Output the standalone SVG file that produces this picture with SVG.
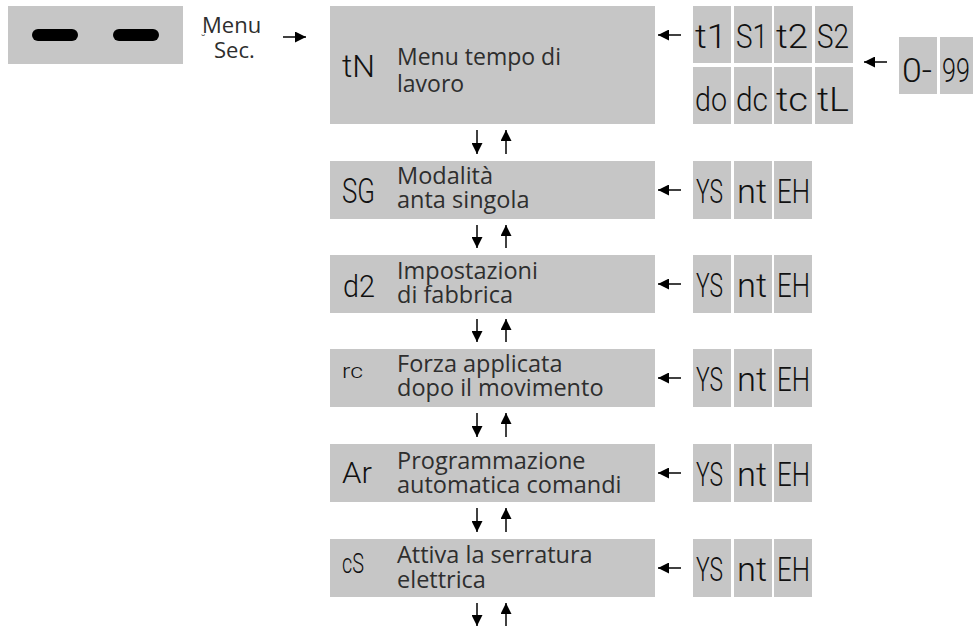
<svg xmlns="http://www.w3.org/2000/svg" width="973" height="627" viewBox="0 0 973 627">
<defs>
<style>
.box{fill:#c6c6c6}
.bar{fill:#000}
.lbl{font-family:"Open Sans","Noto Sans","DejaVu Sans",sans-serif;font-size:23.5px;fill:#2e2e2e}
.big{font-size:23px}
.seg{font-family:Roboto,"DejaVu Sans Mono",monospace;font-weight:300;font-size:34px;fill:#111}
.ln{stroke:#000;stroke-width:1.5;fill:none;marker-end:url(#ah)}
</style>
<marker id="ah" markerUnits="userSpaceOnUse" markerWidth="11" markerHeight="11" refX="10" refY="5" orient="auto" viewBox="0 0 10 10">
<path d="M0,0 L10,5 L0,10 z" fill="#000"/>
</marker>
</defs>
<rect width="973" height="627" fill="#fff"/>

<g id="keys">
<rect class="box" x="8" y="6" width="175" height="58"/>
<rect class="bar" x="32" y="29" width="46" height="12" rx="6"/>
<rect class="bar" x="113" y="29" width="46" height="12" rx="6"/>
</g>
<g id="menu-sec">
<text class="lbl" x="202" y="33" style="font-size:22px">Menu<tspan x="201" y="43" style="font-size:11px">˘</tspan><tspan x="214" y="58">Sec.</tspan></text>
</g>

<g id="node-tN">
<rect class="box" x="330" y="6" width="325" height="118"/>
<text class="seg" x="342" y="77" style="font-size:31px" textLength="33" lengthAdjust="spacingAndGlyphs">tN</text>
<text class="lbl big" x="397" y="65">Menu tempo di<tspan x="397" y="92">lavoro</tspan></text>
</g>
<g id="node-tN-values">
<rect class="box" x="693" y="6" width="38" height="57"/><text class="seg" x="695" y="48" textLength="32" lengthAdjust="spacingAndGlyphs">t1</text>
<rect class="box" x="734" y="6" width="38" height="57"/><text class="seg" x="736" y="48" textLength="32" lengthAdjust="spacingAndGlyphs">S1</text>
<rect class="box" x="774" y="6" width="38" height="57"/><text class="seg" x="776" y="48" textLength="32" lengthAdjust="spacingAndGlyphs">t2</text>
<rect class="box" x="815" y="6" width="38" height="57"/><text class="seg" x="817" y="48" textLength="32" lengthAdjust="spacingAndGlyphs">S2</text>
<rect class="box" x="693" y="67" width="38" height="57"/><text class="seg" x="695" y="111" textLength="32" lengthAdjust="spacingAndGlyphs">do</text>
<rect class="box" x="734" y="67" width="38" height="57"/><text class="seg" x="736" y="111" textLength="32" lengthAdjust="spacingAndGlyphs">dc</text>
<rect class="box" x="774" y="67" width="38" height="57"/><text class="seg" x="776" y="111" textLength="32" lengthAdjust="spacingAndGlyphs">tc</text>
<rect class="box" x="815" y="67" width="38" height="57"/><text class="seg" x="817" y="111" textLength="32" lengthAdjust="spacingAndGlyphs">tL</text>
</g>
<g id="node-range">
<rect class="box" x="899" y="37" width="38" height="57"/><text class="seg" x="902" y="82" textLength="30" lengthAdjust="spacingAndGlyphs">0-</text>
<rect class="box" x="940" y="37" width="38" height="57"/><text class="seg" transform="translate(942,82) scale(0.74,1)" x="0" y="0">99</text>
</g>

<g id="node-SG">
<rect class="box" x="330" y="161" width="325" height="58"/>
<text class="seg" x="342" y="203" style="font-size:35px" textLength="33" lengthAdjust="spacingAndGlyphs">SG</text>
<text class="lbl" x="397" y="184">Modalità<tspan x="397" y="208">anta singola</tspan></text>
</g>
<g id="node-SG-values">
<rect class="box" x="693" y="161" width="38" height="58"/><text class="seg" x="696" y="203" textLength="27" lengthAdjust="spacingAndGlyphs">YS</text>
<rect class="box" x="734" y="161" width="38" height="58"/><text class="seg" x="737" y="203" textLength="30" lengthAdjust="spacingAndGlyphs">nt</text>
<rect class="box" x="774" y="161" width="38" height="58"/><text class="seg" x="777" y="203" textLength="33" lengthAdjust="spacingAndGlyphs">EH</text>
</g>

<g id="node-d2">
<rect class="box" x="330" y="255" width="325" height="58"/>
<text class="seg" x="343" y="297" style="font-size:31px" textLength="32" lengthAdjust="spacingAndGlyphs">d2</text>
<text class="lbl" x="397" y="279">Impostazioni<tspan x="397" y="303">di fabbrica</tspan></text>
</g>
<g id="node-d2-values">
<rect class="box" x="693" y="255" width="38" height="58"/><text class="seg" x="696" y="297" textLength="27" lengthAdjust="spacingAndGlyphs">YS</text>
<rect class="box" x="734" y="255" width="38" height="58"/><text class="seg" x="737" y="297" textLength="30" lengthAdjust="spacingAndGlyphs">nt</text>
<rect class="box" x="774" y="255" width="38" height="58"/><text class="seg" x="777" y="297" textLength="33" lengthAdjust="spacingAndGlyphs">EH</text>
</g>

<g id="node-rc">
<rect class="box" x="330" y="349" width="325" height="58"/>
<text class="seg" x="342" y="378" style="font-size:20px" textLength="21" lengthAdjust="spacingAndGlyphs">rc</text>
<text class="lbl" x="397" y="372">Forza applicata<tspan x="397" y="396">dopo il movimento</tspan></text>
</g>
<g id="node-rc-values">
<rect class="box" x="693" y="349" width="38" height="58"/><text class="seg" x="696" y="391" textLength="27" lengthAdjust="spacingAndGlyphs">YS</text>
<rect class="box" x="734" y="349" width="38" height="58"/><text class="seg" x="737" y="391" textLength="30" lengthAdjust="spacingAndGlyphs">nt</text>
<rect class="box" x="774" y="349" width="38" height="58"/><text class="seg" x="777" y="391" textLength="33" lengthAdjust="spacingAndGlyphs">EH</text>
</g>

<g id="node-Ar">
<rect class="box" x="330" y="444" width="325" height="58"/>
<text class="seg" x="342" y="483" style="font-size:30px" textLength="30" lengthAdjust="spacingAndGlyphs">Ar</text>
<text class="lbl" x="397" y="469">Programmazione<tspan x="397" y="493">automatica comandi</tspan></text>
</g>
<g id="node-Ar-values">
<rect class="box" x="693" y="444" width="38" height="58"/><text class="seg" x="696" y="486" textLength="27" lengthAdjust="spacingAndGlyphs">YS</text>
<rect class="box" x="734" y="444" width="38" height="58"/><text class="seg" x="737" y="486" textLength="30" lengthAdjust="spacingAndGlyphs">nt</text>
<rect class="box" x="774" y="444" width="38" height="58"/><text class="seg" x="777" y="486" textLength="33" lengthAdjust="spacingAndGlyphs">EH</text>
</g>

<g id="node-cS">
<rect class="box" x="330" y="539" width="325" height="58"/>
<text class="seg" x="342" y="573" style="font-size:28px" textLength="22" lengthAdjust="spacingAndGlyphs">cS</text>
<text class="lbl" x="397" y="563">Attiva la serratura<tspan x="397" y="588">elettrica</tspan></text>
</g>
<g id="node-cS-values">
<rect class="box" x="693" y="539" width="38" height="58"/><text class="seg" x="696" y="581" textLength="27" lengthAdjust="spacingAndGlyphs">YS</text>
<rect class="box" x="734" y="539" width="38" height="58"/><text class="seg" x="737" y="581" textLength="30" lengthAdjust="spacingAndGlyphs">nt</text>
<rect class="box" x="774" y="539" width="38" height="58"/><text class="seg" x="777" y="581" textLength="33" lengthAdjust="spacingAndGlyphs">EH</text>
</g>

<g id="connectors">
<line class="ln" x1="283" y1="37" x2="306" y2="37"/>
<line class="ln" x1="681" y1="35" x2="658" y2="35"/>
<line class="ln" x1="887" y1="62" x2="864" y2="62"/>
<line class="ln" x1="681" y1="190" x2="658" y2="190"/>
<line class="ln" x1="681" y1="284" x2="658" y2="284"/>
<line class="ln" x1="681" y1="378" x2="658" y2="378"/>
<line class="ln" x1="681" y1="473" x2="658" y2="473"/>
<line class="ln" x1="681" y1="568" x2="658" y2="568"/>

<line class="ln" x1="477" y1="130" x2="477" y2="154"/>
<line class="ln" x1="506" y1="154" x2="506" y2="130"/>
<line class="ln" x1="477" y1="225" x2="477" y2="248"/>
<line class="ln" x1="506" y1="248" x2="506" y2="225"/>
<line class="ln" x1="477" y1="319" x2="477" y2="342"/>
<line class="ln" x1="506" y1="342" x2="506" y2="319"/>
<line class="ln" x1="477" y1="413" x2="477" y2="437"/>
<line class="ln" x1="506" y1="437" x2="506" y2="413"/>
<line class="ln" x1="477" y1="508" x2="477" y2="532"/>
<line class="ln" x1="506" y1="532" x2="506" y2="508"/>
<line class="ln" x1="477" y1="603" x2="477" y2="626"/>
<line class="ln" x1="506" y1="626" x2="506" y2="603"/>
</g>
</svg>
